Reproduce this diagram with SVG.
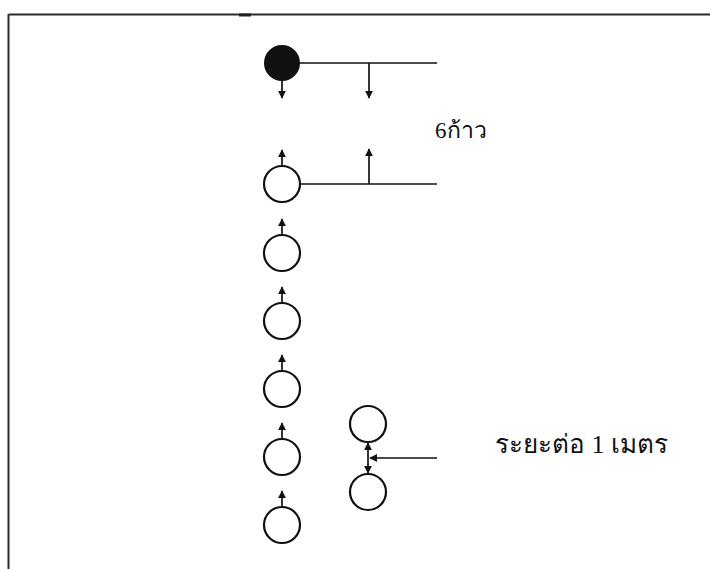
<svg xmlns="http://www.w3.org/2000/svg" width="710" height="569" viewBox="0 0 710 569">
  <style>
    .frame { stroke: #2a2a2a; stroke-width: 2; fill: none; }
    .man { stroke: #111; stroke-width: 2.2; fill: #fff; }
    .leader { stroke: #111; stroke-width: 2; fill: #111; }
    .line { stroke: #111; stroke-width: 1.7; fill: none; }
    .label { font-family: "Liberation Serif", "Noto Sans", serif; fill: #111; }
  </style>
  <defs>
    <marker id="head" viewBox="0 0 10 10" refX="9" refY="5" markerWidth="8" markerHeight="8" markerUnits="userSpaceOnUse" orient="auto">
      <path d="M0,0 L10,5 L0,10 Z" fill="#111"/>
    </marker>
  </defs>

  <rect width="710" height="569" fill="#fff"/>

  <!-- page border -->
  <g id="border">
    <line class="frame" x1="9" y1="14.5" x2="710" y2="14.5"/>
    <line class="frame" x1="8.5" y1="14" x2="8.5" y2="569"/>
    <line x1="239" y1="15" x2="251" y2="15" stroke="#222" stroke-width="3"/>
  </g>

  <!-- leader -->
  <g id="leader">
    <circle class="leader" cx="282" cy="63" r="17"/>
  </g>

  <!-- file of players -->
  <g id="player-1"><circle class="man" cx="282" cy="184" r="18"/></g>
  <g id="player-2"><circle class="man" cx="282" cy="253" r="18"/></g>
  <g id="player-3"><circle class="man" cx="282" cy="321" r="18"/></g>
  <g id="player-4"><circle class="man" cx="282" cy="389" r="18"/></g>
  <g id="player-5"><circle class="man" cx="282" cy="457" r="18"/></g>
  <g id="player-6"><circle class="man" cx="282" cy="525" r="18"/></g>

  <!-- spacing example -->
  <g id="pair-top"><circle class="man" cx="368" cy="424" r="18"/></g>
  <g id="pair-bottom"><circle class="man" cx="368" cy="492" r="18"/></g>

  <!-- connectors -->
  <g id="connectors">
    <!-- distance lines -->
    <line class="line" x1="299" y1="63" x2="437" y2="63"/>
    <line class="line" x1="300" y1="184" x2="437" y2="184"/>
    <line class="line" x1="369" y1="63" x2="369" y2="98" marker-end="url(#head)"/>
    <line class="line" x1="369" y1="184" x2="369" y2="149" marker-end="url(#head)"/>
    <!-- facing arrows -->
    <line class="line" x1="282" y1="80" x2="282" y2="98" marker-end="url(#head)"/>
    <line class="line" x1="282" y1="166" x2="282" y2="150" marker-end="url(#head)"/>
    <line class="line" x1="282" y1="235" x2="282" y2="219" marker-end="url(#head)"/>
    <line class="line" x1="282" y1="303" x2="282" y2="287" marker-end="url(#head)"/>
    <line class="line" x1="282" y1="371" x2="282" y2="355" marker-end="url(#head)"/>
    <line class="line" x1="282" y1="439" x2="282" y2="423" marker-end="url(#head)"/>
    <line class="line" x1="282" y1="507" x2="282" y2="491" marker-end="url(#head)"/>
    <!-- 1 m gap -->
    <line class="line" x1="368" y1="458" x2="368" y2="443" marker-end="url(#head)"/>
    <line class="line" x1="368" y1="458" x2="368" y2="473" marker-end="url(#head)"/>
    <line class="line" x1="437" y1="458" x2="370" y2="458" marker-end="url(#head)"/>
  </g>

  <!-- labels -->
  <text class="label" x="435" y="138" font-size="23">6ก้าว</text>
  <text class="label" x="495" y="453" font-size="26">ระยะต่อ 1 เมตร</text>
</svg>
